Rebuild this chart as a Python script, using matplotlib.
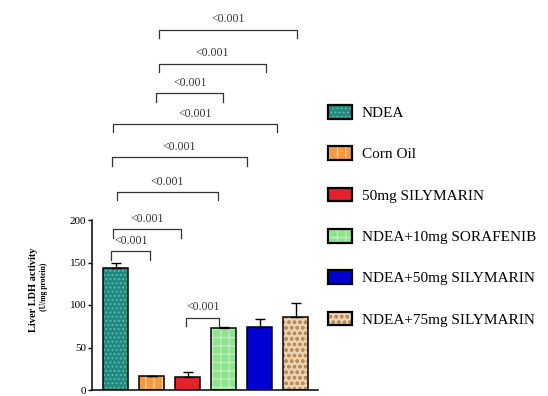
import matplotlib
matplotlib.use("Agg")
import matplotlib.pyplot as plt
from matplotlib.patches import Patch
from matplotlib.legend_handler import HandlerTuple

plt.rcParams['font.family'] = ['Liberation Serif', 'DejaVu Serif']
plt.rcParams['hatch.linewidth'] = 0.9

# Liver LDH activity (U/mg protein), mean and SD per group
groups = ["NDEA", "Corn Oil", "50mg SILYMARIN", "NDEA+10mg SORAFENIB",
          "NDEA+50mg SILYMARIN", "NDEA+75mg SILYMARIN"]
means = [144, 16, 15, 73, 74, 86]
errors = [5, 1, 6, 1, 9, 16]
y_ticks = [0, 50, 100, 150, 200]

# pairwise comparisons: (left end, right end, height, p-value label)
comparisons = [
    (1.21, 5.04, 424, "<0.001"),
    (1.21, 4.18, 384, "<0.001"),
    (1.13, 2.99, 349, "<0.001"),
    (-0.07, 4.49, 313, "<0.001"),
    (-0.10, 3.65, 274, "<0.001"),
    (0.04, 2.85, 233, "<0.001"),
    (-0.07, 1.82, 189, "<0.001"),
    (-0.12, 0.96, 163, "<0.001"),
    (1.96, 2.88, 85, "<0.001"),
]

faces = ["#1f8a7c", "#f39a45", "#e4222c", "#8fe38f", "#0000cf", "#ecd2b0"]
hatch_cols = ["#5fb8a8", "#ffcf86", "#e4222c", "#bff2bf", "#0000cf", "#b98c5c"]
hatches = ["....", "||", None, "++", None, "ooo"]

W, H = 548, 396
fig = plt.figure(figsize=(W / 100, H / 100), dpi=100)
ax = fig.add_axes([92 / W, 6 / H, 226 / W, 455 * 0.85 / H])

x = list(range(len(groups)))
handles = []
for i in x:
    ax.bar(i, means[i], width=0.7, color=faces[i], hatch=hatches[i],
           edgecolor=hatch_cols[i], linewidth=0, zorder=2)
    ax.bar(i, means[i], width=0.7, facecolor="none", edgecolor="black",
           linewidth=1.1, zorder=3)
    handles.append((Patch(facecolor=faces[i], hatch=hatches[i],
                          edgecolor=hatch_cols[i], linewidth=0),
                    Patch(facecolor="none", edgecolor="black", linewidth=1.6)))

ax.errorbar(x, means, yerr=[[0] * len(errors), errors], fmt="none",
            ecolor="black", elinewidth=1.0, capsize=3.5, capthick=1.0, zorder=4)

for x0, x1, y, label in comparisons:
    ax.plot([x0, x0, x1, x1], [y - 10, y, y, y - 10], color="#333333",
            linewidth=0.9, zorder=5, clip_on=False)
    ax.text((x0 + x1) / 2, y + 5, label, ha="center", va="bottom",
            fontsize=8.5, color="#333333")

ax.set_xlim(-0.653, 5.625)
ax.set_ylim(0, 455)
ax.set_yticks(y_ticks)
ax.set_yticklabels([str(t) for t in y_ticks], fontsize=8)
ax.set_xticks([])
ax.spines["top"].set_visible(False)
ax.spines["right"].set_visible(False)
ax.spines["left"].set_bounds(0, 200)
ax.spines["left"].set_linewidth(1.1)
ax.spines["bottom"].set_linewidth(1.1)
ax.tick_params(axis="y", direction="out", length=3, width=1.0, pad=1)

fig.text(34 / W, 1 - 290 / H, "Liver LDH activity", rotation=90,
         ha="center", va="center", fontsize=7.5, fontweight="bold")
fig.text(44 / W, 1 - 287 / H, "(U/mg protein)", rotation=90,
         ha="center", va="center", fontsize=5.5, fontweight="bold")

ax.legend(handles, groups, handler_map={tuple: HandlerTuple(ndivide=1, pad=0)},
          loc="upper left", bbox_to_anchor=(328 / W, 1 - 105 / H),
          bbox_transform=fig.transFigure, frameon=False, fontsize=11,
          borderpad=0, borderaxespad=0, handlelength=1.55, handleheight=1.0,
          handletextpad=0.65, labelspacing=1.72)

fig.savefig("out.png", dpi=100, facecolor="white")
